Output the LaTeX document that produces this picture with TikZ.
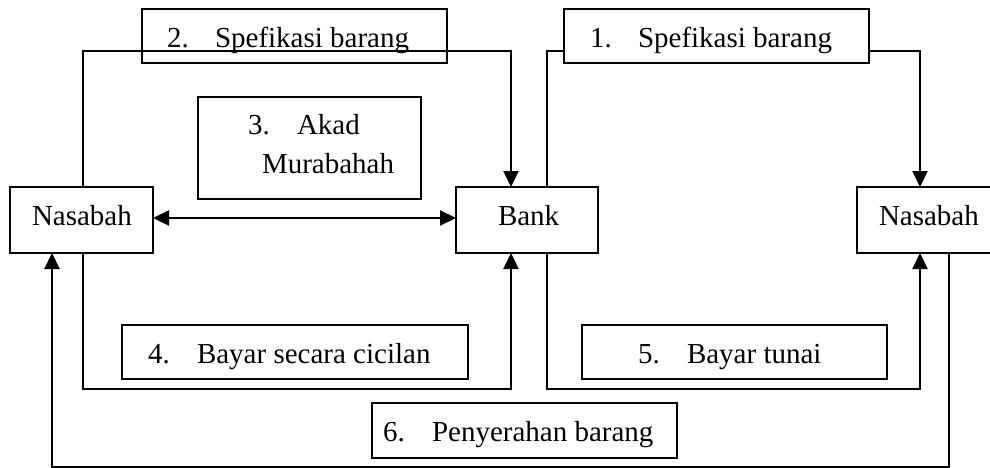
\documentclass[tikz,border=0pt]{standalone}
\usepackage{fontspec}
\setmainfont{Liberation Serif}
\usetikzlibrary{arrows.meta,calc}
\begin{document}
\begin{tikzpicture}[x=1pt,y=-1pt,
  box/.style={draw,line width=1.8pt,inner sep=0pt,outer sep=0pt},
  lbl/.style={anchor=base west,inner sep=0pt,outer sep=0pt,font=\fontsize{29}{34}\selectfont},
  conn/.style={line width=2.2pt},
  arr/.style={conn,-{Triangle[length=16pt,width=15pt]}},
  darr/.style={conn,{Triangle[length=16pt,width=15pt]}-{Triangle[length=16pt,width=15pt]}}]
\useasboundingbox (0,0) rectangle (990,468);
\clip (0,0) rectangle (990,468);
% boxes
\node[box,minimum width=143pt,minimum height=66pt,anchor=north west] (nl) at (10,187) {};
\node[box,minimum width=142pt,minimum height=66pt,anchor=north west] (bank) at (456,187) {};
\node[box,minimum width=150pt,minimum height=66pt,anchor=north west] (nr) at (857,187) {};
\node[box,minimum width=305pt,minimum height=54pt,anchor=north west] (b2) at (142,9) {};
\node[box,minimum width=305pt,minimum height=54pt,anchor=north west] (b1) at (564,9) {};
\node[box,minimum width=223pt,minimum height=102pt,anchor=north west] (b3) at (198,97) {};
\node[box,minimum width=346pt,minimum height=54pt,anchor=north west] (b4) at (122,325) {};
\node[box,minimum width=305pt,minimum height=54pt,anchor=north west] (b5) at (582,325) {};
\node[box,minimum width=305pt,minimum height=55pt,anchor=north west] (b6) at (372,403) {};
% anchor points on the boxes
\coordinate (nlt) at ([xshift=73pt]nl.north west);
\coordinate (nlb) at ([xshift=73pt]nl.south west);
\coordinate (nlr) at ([xshift=42pt]nl.south west);
\coordinate (bkti) at ([xshift=55pt]bank.north west);
\coordinate (bkto) at ([xshift=91pt]bank.north west);
\coordinate (bkbi) at ([xshift=55pt]bank.south west);
\coordinate (bkbo) at ([xshift=91pt]bank.south west);
\coordinate (nrti) at ([xshift=63pt]nr.north west);
\coordinate (nrbi) at ([xshift=63pt]nr.south west);
\coordinate (nrbo) at ([xshift=92pt]nr.south west);
% levels of the horizontal runs
\coordinate (t1) at (0,51);
\coordinate (m1) at (0,389);
\coordinate (m2) at (0,467);
% connectors
\draw[arr] (nlt) -- (nlt |- t1) -- (bkti |- t1) -- (bkti);
\draw[conn] (bkto) -- (bkto |- t1) -- (b1.west |- t1);
\draw[arr] (b1.east |- t1) -- (nrti |- t1) -- (nrti);
\draw[darr] (nl.east |- 0,218) -- (bank.west |- 0,218);
\draw[arr] (nlb) -- (nlb |- m1) -- (bkbi |- m1) -- (bkbi);
\draw[arr] (bkbo) -- (bkbo |- m1) -- (nrbi |- m1) -- (nrbi);
\draw[arr] (nrbo) -- (nrbo |- m2) -- (nlr |- m2) -- (nlr);
% labels
\node[lbl] (tnl) at (32,225) {Nasabah};
\node[lbl] (tbank) at (498,225) {Bank};
\node[lbl] (tnr) at (879,225) {Nasabah};
\node[lbl] (t2a) at (167,48) {2.};
\node[lbl] (t2b) at (215,48) {Spefikasi barang};
\node[lbl] (t1a) at (590,48) {1.};
\node[lbl] (t1b) at (638,48) {Spefikasi barang};
\node[lbl] (t3a) at (248,135) {3.};
\node[lbl] (t3b) at (297,135) {Akad};
\node[lbl] (t3c) at (262,173) {Murabahah};
\node[lbl] (t4a) at (148,363) {4.};
\node[lbl] (t4b) at (197,363) {Bayar secara cicilan};
\node[lbl] (t5a) at (638,363) {5.};
\node[lbl] (t5b) at (687,363) {Bayar tunai};
\node[lbl] (t6a) at (383,441) {6.};
\node[lbl] (t6b) at (432,441) {Penyerahan barang};
\end{tikzpicture}
\end{document}
